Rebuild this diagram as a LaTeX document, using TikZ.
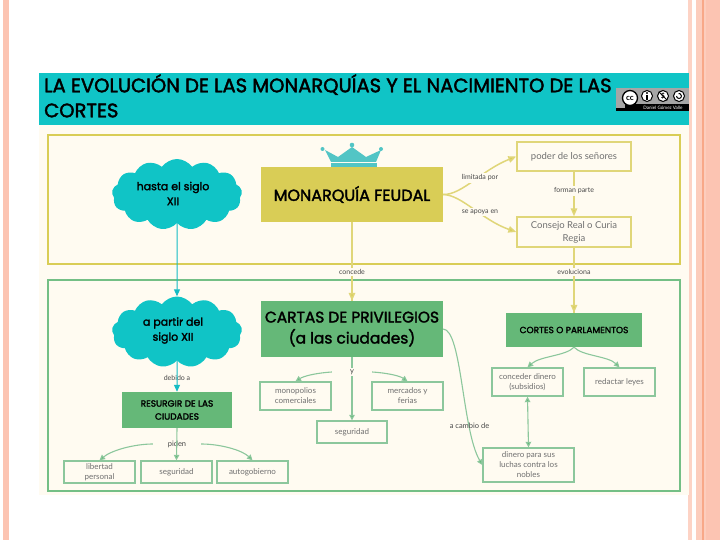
\documentclass[tikz,border=0pt]{standalone}
\usepackage{fontspec}
\setmainfont{Lato}
\newfontfamily\ttl[FakeBold=2]{Poppins}
\usetikzlibrary{arrows.meta,shapes.symbols}
\definecolor{cyanH}{HTML}{10C4C6}
\definecolor{cream}{HTML}{FFFBF1}
\definecolor{yel}{HTML}{D9CD56}
\definecolor{yelL}{HTML}{E0D679}
\definecolor{grn}{HTML}{65B878}
\definecolor{grnL}{HTML}{8CC79C}
\definecolor{teal}{HTML}{15BCC4}
\definecolor{sal}{HTML}{FCC4B2}
\definecolor{salD}{HTML}{F8A888}
\definecolor{crown}{HTML}{52C5C5}
\definecolor{lab}{HTML}{484848}
\definecolor{boxt}{HTML}{707070}
\tikzset{
 x=1pt,y=-1pt,
 frame/.style={draw,line width=2pt,fill=cream},
 ybox/.style={draw=yelL,line width=1.4pt,fill=cream,inner sep=1pt,align=center,text=boxt,font=\fontsize{9.5}{13}\selectfont},
 gbox/.style={draw=grnL,line width=1.4pt,fill=cream,inner sep=1pt,align=center,text=boxt,font=\fontsize{8}{10}\selectfont},
 solid box/.style={inner sep=0pt,align=center,text=black},
 lbl/.style={fill=cream,inner sep=1.5pt,text=lab,font=\fontsize{7}{8}\selectfont},
 cloudn/.style={cloud,cloud puffs=13,cloud puff arc=110,aspect=1.25,fill=cyanH,inner sep=0pt,minimum width=130pt,minimum height=71pt},
 cloudt/.style={inner sep=0pt,align=center,text=black,font=\ttl\fontsize{11}{15}\selectfont},
 yarr/.style={draw=yelL,line width=1.5pt,-{Triangle[length=8pt,width=6.5pt,fill=yel]}},
 yline/.style={draw=yelL,line width=1.2pt},
 tarr/.style={draw=teal,line width=1pt,-{Triangle[length=7pt,width=6pt]}},
 garr/.style={draw=grnL,line width=1.1pt,-{Triangle[length=5.5pt,width=5.5pt,fill=grn]}},
}
\begin{document}
\begin{tikzpicture}
\useasboundingbox (0,0) rectangle (720,540);
\fill[white] (0,0) rectangle (720,540);
% slide side strips
\fill[sal] (3,0) rectangle (9,540);
\fill[sal!75] (688,0) rectangle (692,540);
\fill[sal!85] (696,0) rectangle (720,540);
\fill[salD] (702,0) rectangle (703.5,540);
\fill[sal] (706,0) rectangle (720,540);
% page background
\fill[cream] (39,125) rectangle (689,495);
\fill[cyanH] (39,73) rectangle (689,125);
\node[anchor=north west,inner sep=0pt,align=left,text=black,font=\ttl\fontsize{19.5}{25}\selectfont] (title) at (44,74) {LA EVOLUCIÓN DE LAS MONARQUÍAS Y EL NACIMIENTO DE LAS\\CORTES};
% licence badge
\fill[black] (616,88) rectangle (689,111);
\fill[gray!70] (616,88) rectangle (689,104);
\fill[gray!70] (616,104) rectangle (625,108);
\node[circle,draw=black,line width=1.3pt,fill=white,minimum size=15pt,inner sep=0pt,font=\bfseries\fontsize{8}{8}\selectfont] (cc) at (630,98) {cc};
\node[circle,draw=black,line width=1pt,fill=white,minimum size=11pt,inner sep=0pt] (by) at (647,96) {};
\fill[black] (647,93) circle (1.2);
\fill[black] (645.6,95) rectangle (648.4,100);
\node[circle,draw=black,line width=1pt,fill=white,minimum size=11pt,inner sep=0pt,font=\bfseries\fontsize{7}{7}\selectfont] (nc) at (663,96) {\$};
\draw[black,line width=.8pt] (nc.north west) -- (nc.south east);
\node[circle,draw=black,line width=1pt,fill=white,minimum size=11pt,inner sep=0pt] (sa) at (679,96) {};
\draw[black,line width=1pt] (676.5,96) arc[start angle=180,end angle=-100,radius=2.5];
\node[text=white,inner sep=0pt,font=\fontsize{4.6}{5}\selectfont] (author) at (663,108) {Daniel Gómez Valle};
% frames
\draw[frame,draw=yel] (48,135) rectangle (680,264);
\draw[frame,draw=grn!90!white] (48,280) rectangle (680,491);
% crown
\fill[crown] (325,150) -- (338,157) -- (352,147) -- (366,157) -- (381,150) -- (376,162) -- (331,162) -- cycle;
\fill[crown] (331,163.5) rectangle (377,167);
\fill[crown] (322.5,149) circle (2) (352,145) circle (2.3) (381,149) circle (2);
% top section nodes
\node[cloudn] (c1) at (177,194.5) {};
\node[cloudt] (c1t) at (173,193.5) {hasta el siglo\\XII};
\node[solid box,fill=yel,minimum width=182pt,minimum height=55pt,font=\ttl\fontsize{16}{18}\selectfont] (mf) at (352,194.5) {MONARQUÍA FEUDAL};
\node[ybox,minimum width=114pt,minimum height=29pt] (poder) at (574,156.5) {poder de los señores};
\node[ybox,minimum width=114pt,minimum height=30pt] (consejo) at (574,232) {Consejo Real o Curia\\Regia};
% bottom section nodes
\node[cloudn] (c2) at (177,332) {};
\node[cloudt] (c2t) at (173,330.5) {a partir del\\siglo XII};
\node[solid box,fill=grn,minimum width=182pt,minimum height=56pt,font=\ttl\fontsize{15.4}{21}\selectfont] (cartas) at (352,329) {CARTAS DE PRIVILEGIOS\\(a las ciudades)};
\node[solid box,fill=grn,minimum width=136pt,minimum height=34pt,font=\ttl\fontsize{9}{11}\selectfont] (cortes) at (574,330) {CORTES O PARLAMENTOS};
\node[solid box,fill=grn,minimum width=110pt,minimum height=36pt,font=\ttl\fontsize{9}{13}\selectfont] (res) at (177,410) {RESURGIR DE LAS\\CIUDADES};
\node[gbox,minimum width=71pt,minimum height=28pt] (mono) at (295.5,396) {monopolios\\comerciales};
\node[gbox,minimum width=71pt,minimum height=28pt] (merc) at (407.5,396) {mercados y\\ferias};
\node[gbox,minimum width=70pt,minimum height=22pt] (segc) at (352,432) {seguridad};
\node[gbox,minimum width=71pt,minimum height=28pt] (conc) at (527.5,382) {conceder dinero\\(subsidios)};
\node[gbox,minimum width=71pt,minimum height=28pt] (red) at (619.5,382) {redactar leyes};
\node[gbox,minimum width=91pt,minimum height=34pt] (din) at (528.5,465) {dinero para sus\\luchas contra los\\nobles};
\node[gbox,minimum width=71pt,minimum height=22pt] (lib) at (99.5,472) {libertad\\personal};
\node[gbox,minimum width=71pt,minimum height=22pt] (segr) at (176.5,472) {seguridad};
\node[gbox,minimum width=71pt,minimum height=22pt] (auto) at (252.5,472) {autogobierno};
% connectors
\draw[yarr] (mf.east) .. controls (462,195) and (482,170) .. (poder.west);
\draw[yarr] (mf.east) .. controls (462,195) and (482,220) .. (consejo.west);
\draw[yarr] (poder.south) -- (consejo.north);
\draw[yline] (mf.south) -- (cartas.north);
\draw[yline] (consejo.south) -- (cortes.north);
\draw[yarr] (352,280) -- (cartas.north);
\draw[yarr] (574,280) -- (cortes.north);
\draw[tarr] (c1.south) -- (c2.north);
\node[lbl,minimum width=26pt] (debido) at (177,378) {debido a};
\draw[tarr] (c2.south) -- (res.north);
\node[lbl,minimum width=48pt,font=\fontsize{7.5}{8}\selectfont] (piden) at (177,444) {piden};
\draw[garr] (res.south) -- (segr.north);
\draw[garr] (piden.west) .. controls (135,444) and (112,450) .. (lib.north);
\draw[garr] (piden.east) .. controls (220,444) and (242,450) .. (auto.north);
\draw[garr] (cartas.south) -- (segc.north);
\node[lbl,minimum width=40pt,font=\fontsize{7.5}{8}\selectfont] (yy) at (352,372) {y};
\draw[garr] (yy.west) .. controls (316,373) and (304,376) .. (mono.north);
\draw[garr] (yy.east) .. controls (388,373) and (400,376) .. (merc.north);
\draw[garr] (cortes.south) .. controls (566,356) and (540,356) .. (conc.north);
\draw[garr] (cortes.south) .. controls (582,356) and (608,356) .. (red.north);
\draw[garr,{Triangle[length=5.5pt,width=5.5pt,fill=grn]}-{Triangle[length=5.5pt,width=5.5pt,fill=grn]}] (conc.south) -- (din.north);
\draw[garr] (cartas.east) .. controls (462,330) and (462,430) .. (din.west);
% labels
\node[lbl] (lim) at (480,178) {limitada por};
\node[lbl] (apoya) at (480,212) {se apoya en};
\node[lbl] (forman) at (574,191) {forman parte};
\node[lbl] (concede) at (352,272) {concede};
\node[lbl] (evol) at (574,272) {evoluciona};
\node[inner sep=0pt,text=lab,font=\fontsize{7.5}{8}\selectfont] (acambio) at (469.5,426) {a cambio de};
\end{tikzpicture}
\end{document}
